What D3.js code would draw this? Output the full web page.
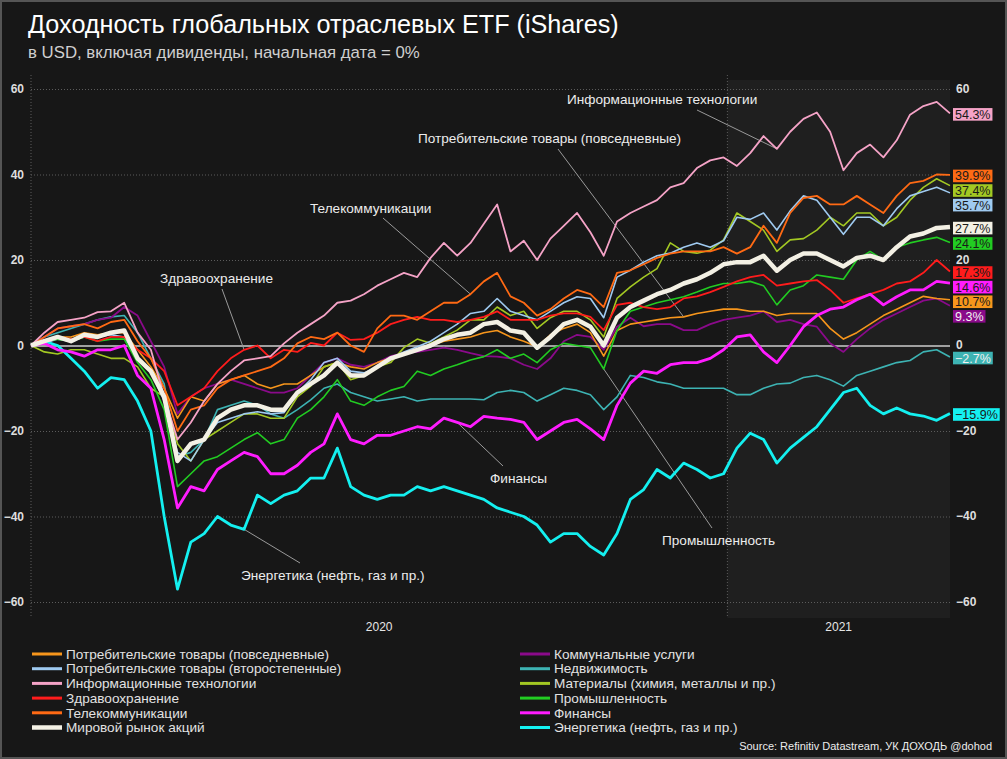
<!DOCTYPE html>
<html>
<head>
<meta charset="utf-8">
<script src="https://cdn.jsdelivr.net/npm/d3@7"></script>
<style>
  html, body { margin: 0; padding: 0; background: #171717; }
  svg { display: block; font-family: 'Liberation Sans', Arial, sans-serif; }
</style>
</head>
<body>
<svg id="chart" width="1007" height="759"></svg>
<script>
/* global d3 */
'use strict';

// weekly observations, starting date = 0%
const startDate = new Date(2020, 0, 1);
const endDate = new Date(2021, 3, 28);
const yearStart2021 = new Date(2021, 0, 1);
const weekDates = d3.range(70).map(i => d3.timeDay.offset(startDate, 7 * i));
const yTicks = [-60, -40, -20, 0, 20, 40, 60];
const yearLabels = ['2020', '2021'];

const staplesValues = [
  0, 1, 2, 2, 3, 2.5, 3, 3, -1, -5,
  -10, -17, -12, -13, -9, -8, -7, -9, -10, -9,
  -9, -7, -5, -4, -5, -5.5, -4, -3, -2, -1,
  0, 1, 1.5, 2, 3, 3.5, 2, 1, -0.3, 2.5,
  4, 5, 3, -2.5, 3.5, 5, 5.5, 6, 6.5, 6.7,
  7.5, 8, 8.5, 8.5, 8, 8, 7, 7.5, 7.5, 7.5,
  4, 1.5, 3, 5, 7, 8.5, 10, 11.5, 11, 10.7
];
const discretionaryValues = [
  0, 0.5, 1.5, 1, 2, 2, 2.5, 2, -3, -6,
  -13, -25, -27, -22, -18, -17, -16, -15.5, -16, -15.7,
  -11, -8, -4, -3, -6, -6.4, -5, -3, -1.5, -0.3,
  1, 3, 5, 7.5, 8, 11, 8, 7, 6, 8,
  10, 11.4, 11, 6.5, 16, 17.6, 19.5, 21, 21.6, 23,
  24, 23, 24.5, 30, 29.5, 31, 27, 31.5, 35, 34,
  30, 26, 30, 30, 28, 32, 35, 36, 37, 35.7
];
const itValues = [
  0, 3, 5.5, 6, 6.5, 7.8, 8, 10, 3, -1,
  -12, -22, -18, -13, -9, -6, -3.5, -3, -2.5, 0.5,
  3, 5, 7, 10, 10.5, 12, 14, 15.5, 17, 16,
  20.5, 24, 21, 24, 28.5, 33, 22, 24.5, 20, 25,
  28, 31, 26.5, 21, 29, 31, 32.5, 34, 37, 38,
  41.5, 43.3, 44, 42, 45, 49, 46, 50, 53, 54.5,
  50, 41, 45, 47, 44, 48, 54, 56, 57, 54.3
];
const healthValues = [
  0, 1, 2, 1.5, 2, 1, 2, 2, -1, -3,
  -6, -14, -12, -10, -6, -3, -1, 0, -3, -1,
  -1.5, 0.6, 0, 3, 1.3, 1.5, 3, 5, 6, 6.7,
  6, 6, 5.5, 6, 6.7, 8, 6, 6, 6, 7,
  7.5, 7.5, 6.7, 3.6, 9.5, 10, 9, 8.5, 9, 11,
  11.5, 12.5, 13.7, 15, 16, 16.5, 14, 14.5, 15, 15.3,
  13, 10, 11, 12, 13, 14.5, 15, 17, 20, 17.3
];
const telecomValues = [
  0, 2, 4, 4.5, 5, 4, 5.5, 6, 1, -3,
  -10, -20, -15, -14, -10, -8, -7, -6, -5, -3,
  0.5, 2, 1.5, 3, 0, -1.5, 4, 7, 7, 6,
  8, 10, 10, 12, 15, 17, 11.5, 10, 7, 8.5,
  11, 13, 12, 9, 17, 17.6, 19, 20.5, 21.5, 22,
  22, 22, 23, 21.5, 23, 28, 24, 31, 34.5, 35,
  33, 33, 35, 33, 31, 35, 38, 38.5, 40, 39.9
];
const worldValues = [
  0, 1, 2, 1, 2.5, 2, 3, 3.5, -3, -6,
  -12, -27, -23, -22, -17, -15, -14, -14, -15, -15,
  -11, -9, -7, -4, -7, -7, -5, -3, -2, -1,
  0, 1.5, 2.5, 3, 5, 5.5, 3.5, 3, -0.5, 2,
  5, 6, 4.4, 0, 6.5, 9, 10.5, 12, 13, 14.5,
  15.5, 17, 19, 19.5, 19.5, 21, 17.5, 20, 21.5, 21.5,
  20, 18.5, 20.5, 21, 20, 23, 25.5, 26.2, 27.5, 27.7
];
const utilitiesValues = [
  0, 2, 4, 4.5, 5, 6, 6.5, 9, 7, 1,
  -5, -16, -12, -10, -9, -8, -9, -10, -11, -11,
  -10, -7, -4, -3, -4.5, -5, -4, -2.5, -1.8, -1.5,
  -1, -0.5, -1, -1.8, -2.5, -2.6, -3, -4.5, -5.5, -3,
  1, 2.5, 2, -1, 4.4, 6.5, 4.5, 5, 5, 3.6,
  3.6, 5, 6, 6.5, 7, 8, 5.5, 6, 5, 4.4,
  0.5, -1.5, 1.5, 4, 6, 7.5, 9, 10.5, 11, 9.3
];
const realEstateValues = [
  0, 2, 3, 4, 5, 6, 6.7, 7, 3, -3,
  -9, -26, -25, -22, -15, -14, -13, -14, -16, -17,
  -15, -12.7, -10, -9, -11, -12, -13, -12.5, -12, -13,
  -12.5, -12.5, -12.5, -12.5, -12.7, -11, -10.5, -11, -13, -11.5,
  -10, -10.5, -11.5, -15, -12, -7, -7.5, -8.5, -9, -10,
  -10, -10, -10, -11.5, -11.5, -10, -9, -8.8, -7.5, -7,
  -8, -9.5, -7, -6, -5, -4, -3.5, -1.5, -1, -2.7
];
const materialsValues = [
  0, -1.5, -2, -1, -1, -2, -3, -3, -5, -10,
  -12, -23, -27, -22, -20, -18, -16, -16, -17, -17,
  -12, -9.5, -5, -4, -8, -7, -5, -4, -0.5, 1.5,
  0.5, 2, 3.6, 6, 6, 9, 7, 8, 4, 6.5,
  8, 8, 6, 2, 11, 13.7, 16, 18, 24, 22,
  21.6, 22.3, 24.7, 31, 29, 27, 22, 24.7, 25, 27,
  30, 28, 31, 31, 28, 30, 34, 37, 39, 37.4
];
const industrialsValues = [
  0, 1, 1.5, 1, 2, 1, 1.5, 1.5, -4, -8,
  -15, -33, -30, -27, -26, -24, -22, -20.4, -23, -22,
  -17, -15, -12, -8, -13, -14, -12, -10.5, -9.6, -6,
  -7, -5.5, -4.5, -3.4, -2.6, -1, -3, -2, -4, -1,
  0.5, 0, -0.5, -5.5, 3.5, 8, 9, 10, 10.7, 11.4,
  12.5, 13.7, 14.5, 14.5, 15, 14, 9.5, 13, 14, 16.5,
  16, 15.5, 20, 22, 20, 23, 24, 24.7, 25.3, 24.1
];
const financialsValues = [
  0, 0.5, -1, -1.5, -2.5, -1, -1, 0, -7, -10,
  -22, -38, -33, -34, -29, -27, -25, -26, -30, -30,
  -28, -25, -23, -16, -22, -23, -21, -21, -20, -19,
  -19.5, -17, -18, -19, -16.6, -17, -17.3, -18, -22, -20,
  -18, -17.3, -19.5, -22, -14, -8.8, -6, -6.5, -4.5, -4,
  -4, -3, -1, 2, 2.5, -1.5, -4, 0, 4.4, 7,
  8.5, 9, 10.7, 12, 9.5, 11.4, 13, 13, 15, 14.6
];
const energyValues = [
  0, 1, 0, -3, -6, -10, -7.5, -8, -13, -20,
  -40, -57, -46, -44, -40, -42, -43, -35, -37, -35,
  -34, -31, -31, -24, -33, -35, -36, -35, -35, -33,
  -34, -33, -34, -35, -36, -38, -39, -40, -42, -46,
  -44, -44, -47, -49, -44, -36, -33.7, -29, -31, -27.5,
  -29, -31, -30, -24, -20.5, -22, -27.5, -24, -21.5, -19,
  -15, -11, -10, -14, -16, -14.6, -16, -16.5, -17.5, -15.9
];

// drawing order: first drawn ends up underneath
const series = [
  { key: 'realEstate', name: 'Недвижимость', values: realEstateValues, color: '#3db3b3', width: 1.6, labelInk: '#f2f2f2' },
  { key: 'utilities', name: 'Коммунальные услуги', values: utilitiesValues, color: '#8a0a8a', width: 1.8, labelInk: '#f2f2f2' },
  { key: 'staples', name: 'Потребительские товары (повседневные)', values: staplesValues, color: '#f7961c', width: 1.6, labelInk: '#1a1a1a' },
  { key: 'materials', name: 'Материалы (химия, металлы и пр.)', values: materialsValues, color: '#a3c823', width: 1.6, labelInk: '#1a1a1a' },
  { key: 'discretionary', name: 'Потребительские товары (второстепенные)', values: discretionaryValues, color: '#9fcaf0', width: 1.6, labelInk: '#1a1a1a' },
  { key: 'industrials', name: 'Промышленность', values: industrialsValues, color: '#22cc22', width: 1.6, labelInk: '#1a1a1a' },
  { key: 'health', name: 'Здравоохранение', values: healthValues, color: '#ff1c1c', width: 1.8, labelInk: '#1a1a1a' },
  { key: 'telecom', name: 'Телекоммуникации', values: telecomValues, color: '#ff6a14', width: 1.8, labelInk: '#1a1a1a' },
  { key: 'it', name: 'Информационные технологии', values: itValues, color: '#f5a3c7', width: 1.8, labelInk: '#1a1a1a' },
  { key: 'energy', name: 'Энергетика (нефть, газ и пр.)', values: energyValues, color: '#14f0f0', width: 2.8, labelInk: '#1a1a1a' },
  { key: 'financials', name: 'Финансы', values: financialsValues, color: '#ff1cff', width: 2.8, labelInk: '#1a1a1a' },
  { key: 'world', name: 'Мировой рынок акций', values: worldValues, color: '#f3f0e4', width: 4.5, labelInk: '#1a1a1a' }
];

const legendLeft = ['staples', 'discretionary', 'it', 'health', 'telecom', 'world'];
const legendRight = ['utilities', 'realEstate', 'materials', 'industrials', 'financials', 'energy'];

// callouts: text position and where the leader line leaves the text; the other end sits on the series
const annotations = [
  { key: 'it', text: 'Информационные технологии', week: 56, tx: 567, ty: 104, lx: 697, ly: 110 },
  { key: 'staples', text: 'Потребительские товары (повседневные)', week: 49, tx: 418, ty: 143, lx: 558, ly: 149 },
  { key: 'telecom', text: 'Телекоммуникации', week: 33, tx: 310, ty: 213, lx: 383, ly: 218 },
  { key: 'health', text: 'Здравоохранение', week: 16, tx: 160, ty: 283, lx: 222, ly: 289 },
  { key: 'financials', text: 'Финансы', week: 32, tx: 490, ty: 483, lx: 503, ly: 466 },
  { key: 'industrials', text: 'Промышленность', week: 43, tx: 662, ty: 545, lx: 712, ly: 528 },
  { key: 'energy', text: 'Энергетика (нефть, газ и пр.)', week: 16, tx: 241, ty: 580, lx: 300, ly: 563 }
];

const svg = d3.select('#chart');
const plot = { left: 31, right: 950, top: 75, bottom: 618 };

const x = d3.scaleTime().domain([startDate, endDate]).range([plot.left, plot.right]);
const y = d3.scaleLinear().domain([-60, 60]).range([602, 89]);

function getSeries(key) {
  return series.find(s => s.key === key);
}

// background and 2021 shading
svg.append('rect')
  .attr('width', 1007).attr('height', 759)
  .attr('fill', '#171717');
svg.append('rect')
  .attr('x', x(yearStart2021)).attr('y', 80)
  .attr('width', plot.right - x(yearStart2021)).attr('height', plot.bottom - 80)
  .attr('fill', '#1f1f1f');

// horizontal grid + left labels
const leftAxis = svg.append('g')
  .attr('transform', `translate(${plot.left},0)`)
  .call(d3.axisLeft(y).tickValues(yTicks).tickSize(-(plot.right - plot.left)).tickPadding(7));
leftAxis.select('.domain').remove();
leftAxis.selectAll('.tick line')
  .attr('stroke', d => d === 0 ? '#a0a0a0' : '#5c5c5c')
  .attr('stroke-width', d => d === 0 ? 2 : 1)
  .attr('stroke-dasharray', d => d === 0 ? null : '1,2');
leftAxis.selectAll('.tick text')
  .attr('fill', '#dedede')
  .attr('font-size', 12)
  .attr('font-weight', 'bold')
  .attr('font-family', "'Liberation Sans', Arial, sans-serif");

// vertical dotted lines
[startDate, yearStart2021].forEach(d => {
  svg.append('line')
    .attr('x1', x(d)).attr('x2', x(d))
    .attr('y1', plot.top).attr('y2', plot.bottom)
    .attr('stroke', '#5c5c5c')
    .attr('stroke-dasharray', '1,2');
});

// end-value tags, pushed apart when they overlap
const tags = series
  .map(s => ({ s, v: s.values[s.values.length - 1] }))
  .sort((a, b) => b.v - a.v);
let lastY = -Infinity;
tags.forEach(t => {
  t.y = Math.max(y(t.v) + 1, lastY + 14.6);
  lastY = t.y;
});

// right labels; the ones sitting under a value tag are hidden, as in the source
const rightTicks = yTicks.filter(t => !tags.some(g => Math.abs(g.y - y(t)) < 9));
const rightAxis = svg.append('g')
  .attr('transform', `translate(${plot.right},0)`)
  .call(d3.axisRight(y).tickValues(rightTicks).tickSize(0).tickPadding(6));
rightAxis.select('.domain').remove();
rightAxis.selectAll('.tick text')
  .attr('dy', '0.25em')
  .attr('fill', '#dedede')
  .attr('font-size', 12)
  .attr('font-weight', 'bold')
  .attr('font-family', "'Liberation Sans', Arial, sans-serif");

// year labels centred on the visible part of each year
const yearSpans = [[startDate, yearStart2021], [yearStart2021, endDate]];
yearSpans.forEach((span, i) => {
  svg.append('text')
    .attr('x', (x(span[0]) + x(span[1])) / 2)
    .attr('y', 631)
    .attr('text-anchor', 'middle')
    .attr('fill', '#e6e6e6')
    .attr('font-size', 12)
    .text(yearLabels[i]);
});

// leader lines under the data
annotations.forEach(a => {
  const s = getSeries(a.key);
  svg.append('line')
    .attr('x1', a.lx).attr('y1', a.ly)
    .attr('x2', x(weekDates[a.week])).attr('y2', y(s.values[a.week]))
    .attr('stroke', '#9a9a9a')
    .attr('stroke-width', 1);
});

const line = d3.line()
  .x((d, i) => x(weekDates[i]))
  .y(d => y(d));

svg.append('g').selectAll('path')
  .data(series)
  .join('path')
  .attr('d', d => line(d.values))
  .attr('fill', 'none')
  .attr('stroke', d => d.color)
  .attr('stroke-width', d => d.width)
  .attr('stroke-linejoin', 'round');

// callout text
annotations.forEach(a => {
  svg.append('text')
    .attr('x', a.tx).attr('y', a.ty)
    .attr('fill', '#ececec')
    .attr('font-size', 13.6)
    .text(a.text);
});

const tagGroup = svg.append('g');
tags.forEach(t => {
  const g = tagGroup.append('g').attr('transform', `translate(953,${t.y})`);
  const txt = g.append('text')
    .attr('x', 2).attr('dy', '0.36em')
    .attr('fill', t.s.labelInk)
    .attr('font-size', 12.5)
    .text(`${d3.format('.1f')(t.v)}%`);
  const w = txt.node().getComputedTextLength();
  g.insert('rect', 'text')
    .attr('x', 0).attr('y', -6.3)
    .attr('width', w + 4).attr('height', 12.6)
    .attr('fill', t.s.color);
});

// legend
function drawLegend(keys, x0) {
  keys.forEach((key, i) => {
    const s = getSeries(key);
    const ly = 654 + i * 14.7;
    svg.append('line')
      .attr('x1', x0).attr('x2', x0 + 30)
      .attr('y1', ly).attr('y2', ly)
      .attr('stroke', s.color)
      .attr('stroke-width', key === 'world' ? 4.5 : 3);
    svg.append('text')
      .attr('x', x0 + 34).attr('y', ly).attr('dy', '0.35em')
      .attr('fill', '#e2e2e2')
      .attr('font-size', 13.6)
      .text(s.name);
  });
}
drawLegend(legendLeft, 32);
drawLegend(legendRight, 520);

// titles and source
svg.append('text')
  .attr('x', 28).attr('y', 33)
  .attr('fill', '#ffffff')
  .attr('font-size', 25.2)
  .text('Доходность глобальных отраслевых ETF (iShares)');
svg.append('text')
  .attr('x', 28).attr('y', 58)
  .attr('fill', '#cfcfcf')
  .attr('font-size', 16.8)
  .text('в USD, включая дивиденды, начальная дата = 0%');
svg.append('text')
  .attr('x', 992).attr('y', 750)
  .attr('text-anchor', 'end')
  .attr('fill', '#ececec')
  .attr('font-size', 11)
  .text('Source: Refinitiv Datastream, УК ДОХОДЬ @dohod');

// frame
svg.append('rect')
  .attr('x', 1).attr('y', 1)
  .attr('width', 1005).attr('height', 757)
  .attr('fill', 'none')
  .attr('stroke', '#555')
  .attr('stroke-width', 2);
</script>
</body>
</html>
